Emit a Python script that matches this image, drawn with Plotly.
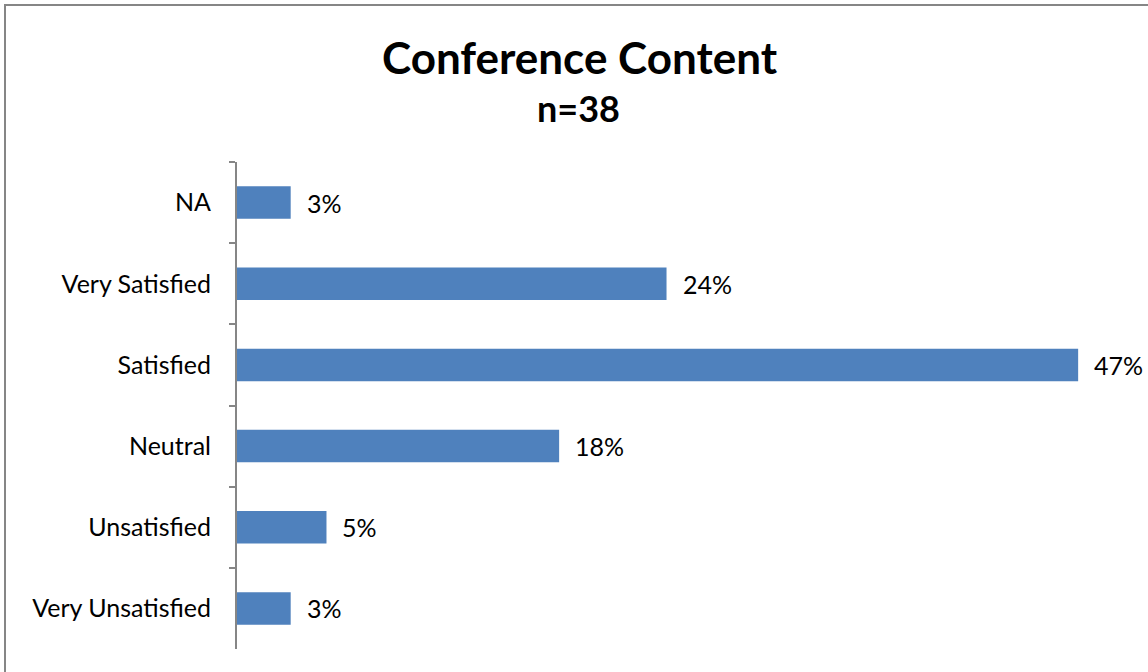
import plotly.graph_objects as go

# Survey responses, listed top to bottom as shown
categories = ["NA", "Very Satisfied", "Satisfied", "Neutral", "Unsatisfied", "Very Unsatisfied"]
percentages = [3, 24, 47, 18, 5, 3]
title_text = "Conference Content"
subtitle_text = "n=38"

FONT = "Lato"
BAR_COLOR = "#4F81BD"
GRAY = "#868686"

W, H = 1148, 672
M_L, M_R, M_T, M_B = 237, 43, 162, 23
plot_w = W - M_L - M_R
plot_h = H - M_T - M_B


def px_to_paper_x(px):
    return (px - M_L) / plot_w


def px_to_paper_y(py):
    return (H - M_B - py) / plot_h


fig = go.Figure(
    go.Bar(
        x=percentages,
        y=categories,
        orientation="h",
        marker=dict(color=BAR_COLOR, line=dict(width=0)),
        hoverinfo="skip",
    )
)

# value labels to the right of each bar
for cat, val in zip(categories, percentages):
    fig.add_annotation(
        x=val, y=cat, xref="x", yref="y",
        text=f"{val}%", showarrow=False,
        xanchor="left", yanchor="middle", xshift=14,
        font=dict(family=FONT, size=25, color="#000000"),
    )

# chart title and sample size
fig.add_annotation(
    x=px_to_paper_x(580), y=px_to_paper_y(57), xref="paper", yref="paper",
    text=f"<b>{title_text}</b>", showarrow=False,
    xanchor="center", yanchor="middle",
    font=dict(family=FONT, size=44, color="#000000"),
)
fig.add_annotation(
    x=px_to_paper_x(578), y=px_to_paper_y(108), xref="paper", yref="paper",
    text=f"<b>{subtitle_text}</b>", showarrow=False,
    xanchor="center", yanchor="middle",
    font=dict(family=FONT, size=36, color="#000000"),
)

# outer chart frame
fig.add_shape(
    type="rect", xref="paper", yref="paper",
    x0=px_to_paper_x(5), y0=px_to_paper_y(5),
    x1=px_to_paper_x(W + 20), y1=px_to_paper_y(H + 20),
    line=dict(color=GRAY, width=2), fillcolor="rgba(0,0,0,0)", layer="below",
)

fig.update_layout(
    width=W, height=H,
    margin=dict(l=M_L, r=M_R, t=M_T, b=M_B, pad=0),
    paper_bgcolor="white", plot_bgcolor="white",
    bargap=0.6, showlegend=False,
    font=dict(family=FONT, size=25, color="#000000"),
    xaxis=dict(
        range=[0, 48.5], visible=False, showgrid=False, zeroline=False,
    ),
    yaxis=dict(
        type="category", autorange="reversed",
        showline=True, linecolor=GRAY, linewidth=2,
        ticks="outside", tickson="boundaries", ticklen=6,
        tickcolor=GRAY, tickwidth=2,
        showgrid=False, zeroline=False,
        ticklabelstandoff=19,
        tickfont=dict(family=FONT, size=25, color="#000000"),
    ),
)

fig.write_html("out.html")
